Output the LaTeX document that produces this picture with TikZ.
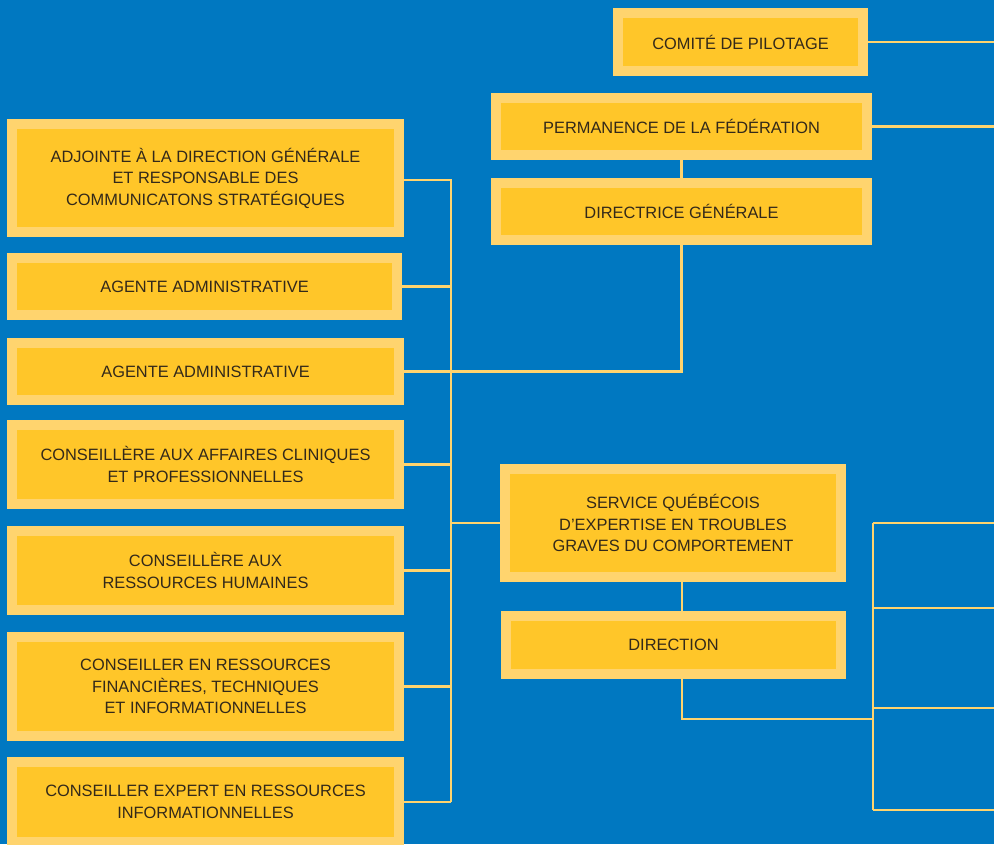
\documentclass[tikz,border=0pt]{standalone}
\usepackage{fontspec}
\setmainfont{Liberation Sans}
\definecolor{bg}{HTML}{0078C1}
\definecolor{outerY}{HTML}{FFD46E}
\definecolor{innerY}{HTML}{FFC629}
\definecolor{txt}{HTML}{33291A}
\begin{document}
\begin{tikzpicture}[x=1pt,y=-1pt,
  box/.style={draw=outerY, line width=10pt, fill=innerY, inner sep=0pt, outer sep=5pt,
    align=center, text=txt, font=\fontsize{16.4}{21.5}\selectfont},
  link/.style={draw=outerY, line width=2.4pt}]
\fill[bg] (0,0) rectangle (994,844);
\useasboundingbox (0,0) rectangle (994,844);
% top right
\node[box, minimum width=245pt, minimum height=58pt] (comite) at (740.5,42) {COMITÉ DE PILOTAGE};
\node[box, minimum width=371pt, minimum height=57pt] (perm) at (681.5,126.5) {PERMANENCE DE LA FÉDÉRATION};
\node[box, minimum width=371pt, minimum height=57pt] (dirg) at (681.5,211.5) {DIRECTRICE GÉNÉRALE};
% left column
\node[box, minimum width=387pt, minimum height=108pt] (adj) at (205.5,178) {ADJOINTE À LA DIRECTION GÉNÉRALE\\ET RESPONSABLE DES\\COMMUNICATONS STRATÉGIQUES};
\node[box, minimum width=385pt, minimum height=57pt] (ag1) at (204.5,286.5) {AGENTE ADMINISTRATIVE};
\node[box, minimum width=387pt, minimum height=57pt] (ag2) at (205.5,371.5) {AGENTE ADMINISTRATIVE};
\node[box, minimum width=387pt, minimum height=79pt] (cli) at (205.5,464.5) {CONSEILLÈRE AUX AFFAIRES CLINIQUES\\ET PROFESSIONNELLES};
\node[box, minimum width=387pt, minimum height=79pt] (rh) at (205.5,570.5) {CONSEILLÈRE AUX\\RESSOURCES HUMAINES};
\node[box, minimum width=387pt, minimum height=99pt] (fin) at (205.5,686.5) {CONSEILLER EN RESSOURCES\\FINANCIÈRES, TECHNIQUES\\ET INFORMATIONNELLES};
\node[box, minimum width=387pt, minimum height=80pt] (exp) at (205.5,802) {CONSEILLER EXPERT EN RESSOURCES\\INFORMATIONNELLES};
% service
\node[box, minimum width=336pt, minimum height=108pt] (sq) at (673,523) {SERVICE QUÉBÉCOIS\\D’EXPERTISE EN TROUBLES\\GRAVES DU COMPORTEMENT};
\node[box, minimum width=335pt, minimum height=58pt] (dir) at (673.5,645) {DIRECTION};
% free ends and junctions
\coordinate (e1) at (994,42);
\coordinate (e2) at (994,127);
\coordinate (lb) at (451,180);
\coordinate (sx) at (682,0);
\coordinate (rb1) at (873,523);
\coordinate (rb2) at (873,608);
\coordinate (rb3) at (873,708);
\coordinate (rb4) at (873,810);
\coordinate (f1) at (994,523);
\coordinate (f2) at (994,608);
\coordinate (f3) at (994,708);
\coordinate (f4) at (994,810);
\coordinate (dj) at (873,719);
% connectors
\draw[link] (comite.east) -- (comite.east -| e1);
\draw[link] (perm.east) -- (perm.east -| e2);
\draw[link] (perm.south) -- (dirg.north);
\draw[link] (adj.east |- lb) -- (lb) -- (lb |- exp.east);
\draw[link] (ag1.east) -- (ag1.east -| lb);
\draw[link] (dirg.south) |- (ag2.east -| lb);
\draw[link] (ag2.east) -- (ag2.east -| lb);
\draw[link] (cli.east) -- (cli.east -| lb);
\draw[link] (rh.east) -- (rh.east -| lb);
\draw[link] (fin.east) -- (fin.east -| lb);
\draw[link] (exp.east) -- (exp.east -| lb);
\draw[link] (lb |- sq.west) -- (sq.west);
\draw[link] (sx |- sq.south) -- (sx |- dir.north);
\draw[link] (sx |- dir.south) |- (dj);
\draw[link] (rb1) -- (rb4);
\draw[link] (rb1) -- (f1);
\draw[link] (rb2) -- (f2);
\draw[link] (rb3) -- (f3);
\draw[link] (rb4) -- (f4);
\end{tikzpicture}
\end{document}
